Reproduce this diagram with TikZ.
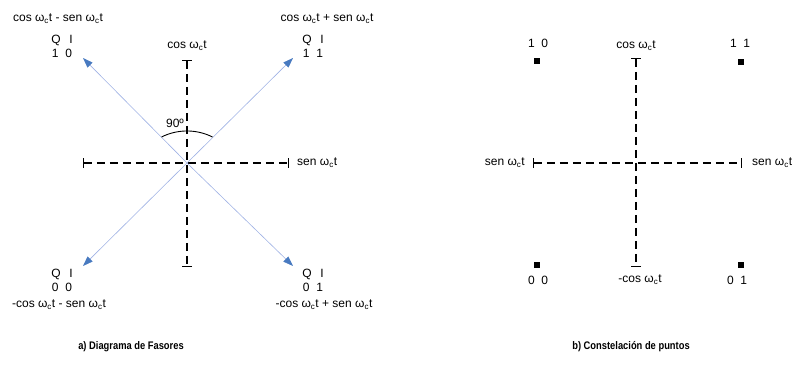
\documentclass[tikz,border=0pt]{standalone}
\usepackage{fontspec}
\usepackage{graphicx}
\setmainfont{Liberation Sans}
\usetikzlibrary{arrows.meta}

\definecolor{lineblue}{RGB}{160,178,228}
\definecolor{tipblue}{RGB}{72,122,192}
\newcommand{\wct}{ω\textsubscript{c}t}

\tikzset{
  axis/.style={line width=1.1pt, dash pattern=on 8pt off 5pt,
    {Bar[width=10pt,line width=1.1pt]}-{Bar[width=10pt,line width=1.1pt]}},
  phasor/.style={draw=lineblue, line width=0.6pt,
    -{Triangle[length=10pt,width=7pt,color=tipblue]}},
  bits/.style={align=center, inner sep=1pt, font=\fontsize{12}{14}\selectfont},
  point/.style={fill=black, minimum size=6pt, inner sep=0pt},
  caption/.style={font=\fontsize{11}{13}\selectfont\bfseries}
}

\begin{document}
\begin{tikzpicture}[x=1pt, y=1pt, font=\fontsize{12}{14}\selectfont]
\useasboundingbox (0,0) rectangle (797,-368);

% a) phasor diagram
\coordinate (O) at (187,-163);
\coordinate (top) at (187,-60);
\coordinate (bot) at (187,-267);
\coordinate (lft) at (83,-163);
\coordinate (rgt) at (289,-163);
\draw[axis] (top) -- (bot);
\draw[axis] (lft) -- (rgt);
\node (cosA) at (187,-46) {cos \wct};
\node[anchor=west,inner sep=1pt] (senA) at (296,-163) {sen \wct};

\coordinate (p10) at (83,-58);
\coordinate (p11) at (293,-58);
\coordinate (p00) at (83,-266);
\coordinate (p01) at (293,-266);
\draw[phasor] (O) -- (p10);
\draw[phasor] (O) -- (p11);
\draw[phasor] (O) -- (p00);
\draw[phasor] (O) -- (p01);

% 90 degree arc
\coordinate (arcA) at (161.5,-137);
\draw[line width=0.9pt] (arcA) arc (116.6:63.4:57);
\node (ang) at (175,-123) {90º};

\node (sumUL) at (58,-19) {cos \wct\ - sen \wct};
\node[bits] (qiUL) at (62,-46) {Q\ \ \,I\\1\ \ 0};
\node (sumUR) at (327,-19) {cos \wct\ + sen \wct};
\node[bits] (qiUR) at (313,-46) {Q\ \ \,I\\1\ \ 1};
\node[bits] (qiLL) at (62,-280) {Q\ \ \,I\\0\ \ 0};
\node (sumLL) at (59,-305) {-cos \wct\ - sen \wct};
\node[bits] (qiLR) at (313,-280) {Q\ \ \,I\\0\ \ 1};
\node (sumLR) at (324,-305) {-cos \wct\ + sen \wct};

% b) constellation
\coordinate (top2) at (636,-58);
\coordinate (bot2) at (636,-267);
\coordinate (lft2) at (533,-163);
\coordinate (rgt2) at (742,-163);
\draw[axis] (top2) -- (bot2);
\draw[axis] (lft2) -- (rgt2);
\node (cosB) at (636,-46) {cos \wct};
\node (mcosB) at (640,-280) {-cos \wct};
\node[anchor=east,inner sep=1pt] (senL) at (526,-163) {sen \wct};
\node[anchor=west,inner sep=1pt] (senR) at (751,-163) {sen \wct};

\node[point] (s10) at (537,-61) {};
\node[point] (s11) at (741,-62) {};
\node[point] (s00) at (537,-265) {};
\node[point] (s01) at (741,-265) {};
\node (b10) at (538,-43) {1\ \ 0};
\node (b11) at (740,-43) {1\ \ 1};
\node (b00) at (538,-280) {0\ \ 0};
\node (b01) at (737,-280) {0\ \ 1};

% captions
\node[caption] (capA) at (131,-347) {\scalebox{0.85}[1]{a) Diagrama de Fasores}};
\node[caption] (capB) at (631,-347) {\scalebox{0.85}[1]{b) Constelación de puntos}};
\end{tikzpicture}
\end{document}
